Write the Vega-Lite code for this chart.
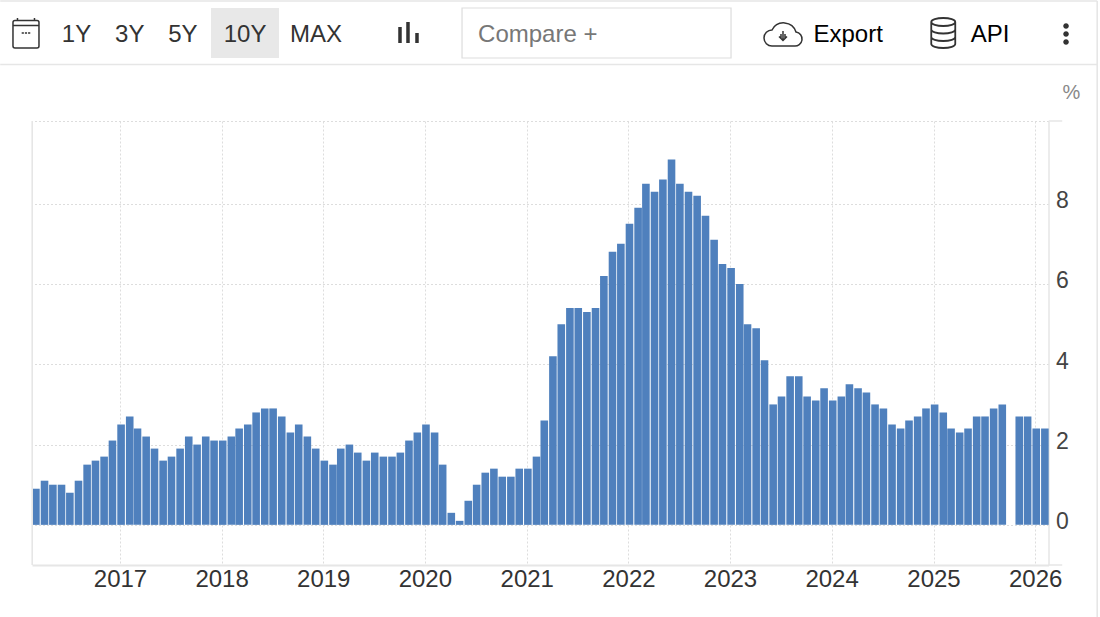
{
  "$schema": "https://vega.github.io/schema/vega-lite/v6.json",
  "width": 1016.5,
  "height": 444,
  "autosize": "none",
  "padding": {"left": 32, "top": 121, "right": 51.5, "bottom": 52},
  "background": "white",
  "config": {"view": {"stroke": null}, "font": "Liberation Sans"},
  "layer": [
    {
      "data": {"values": [
        {"date": "2016-03-05", "rate": 0.9}, {"date": "2016-04-05", "rate": 1.1}, {"date": "2016-05-05", "rate": 1.0}, {"date": "2016-06-05", "rate": 1.0},
        {"date": "2016-07-05", "rate": 0.8}, {"date": "2016-08-05", "rate": 1.1}, {"date": "2016-09-05", "rate": 1.5}, {"date": "2016-10-05", "rate": 1.6},
        {"date": "2016-11-05", "rate": 1.7}, {"date": "2016-12-05", "rate": 2.1},
        {"date": "2017-01-05", "rate": 2.5}, {"date": "2017-02-05", "rate": 2.7}, {"date": "2017-03-05", "rate": 2.4}, {"date": "2017-04-05", "rate": 2.2},
        {"date": "2017-05-05", "rate": 1.9}, {"date": "2017-06-05", "rate": 1.6}, {"date": "2017-07-05", "rate": 1.7}, {"date": "2017-08-05", "rate": 1.9},
        {"date": "2017-09-05", "rate": 2.2}, {"date": "2017-10-05", "rate": 2.0}, {"date": "2017-11-05", "rate": 2.2}, {"date": "2017-12-05", "rate": 2.1},
        {"date": "2018-01-05", "rate": 2.1}, {"date": "2018-02-05", "rate": 2.2}, {"date": "2018-03-05", "rate": 2.4}, {"date": "2018-04-05", "rate": 2.5},
        {"date": "2018-05-05", "rate": 2.8}, {"date": "2018-06-05", "rate": 2.9}, {"date": "2018-07-05", "rate": 2.9}, {"date": "2018-08-05", "rate": 2.7},
        {"date": "2018-09-05", "rate": 2.3}, {"date": "2018-10-05", "rate": 2.5}, {"date": "2018-11-05", "rate": 2.2}, {"date": "2018-12-05", "rate": 1.9},
        {"date": "2019-01-05", "rate": 1.6}, {"date": "2019-02-05", "rate": 1.5}, {"date": "2019-03-05", "rate": 1.9}, {"date": "2019-04-05", "rate": 2.0},
        {"date": "2019-05-05", "rate": 1.8}, {"date": "2019-06-05", "rate": 1.6}, {"date": "2019-07-05", "rate": 1.8}, {"date": "2019-08-05", "rate": 1.7},
        {"date": "2019-09-05", "rate": 1.7}, {"date": "2019-10-05", "rate": 1.8}, {"date": "2019-11-05", "rate": 2.1}, {"date": "2019-12-05", "rate": 2.3},
        {"date": "2020-01-05", "rate": 2.5}, {"date": "2020-02-05", "rate": 2.3}, {"date": "2020-03-05", "rate": 1.5}, {"date": "2020-04-05", "rate": 0.3},
        {"date": "2020-05-05", "rate": 0.1}, {"date": "2020-06-05", "rate": 0.6}, {"date": "2020-07-05", "rate": 1.0}, {"date": "2020-08-05", "rate": 1.3},
        {"date": "2020-09-05", "rate": 1.4}, {"date": "2020-10-05", "rate": 1.2}, {"date": "2020-11-05", "rate": 1.2}, {"date": "2020-12-05", "rate": 1.4},
        {"date": "2021-01-05", "rate": 1.4}, {"date": "2021-02-05", "rate": 1.7}, {"date": "2021-03-05", "rate": 2.6}, {"date": "2021-04-05", "rate": 4.2},
        {"date": "2021-05-05", "rate": 5.0}, {"date": "2021-06-05", "rate": 5.4}, {"date": "2021-07-05", "rate": 5.4}, {"date": "2021-08-05", "rate": 5.3},
        {"date": "2021-09-05", "rate": 5.4}, {"date": "2021-10-05", "rate": 6.2}, {"date": "2021-11-05", "rate": 6.8}, {"date": "2021-12-05", "rate": 7.0},
        {"date": "2022-01-05", "rate": 7.5}, {"date": "2022-02-05", "rate": 7.9}, {"date": "2022-03-05", "rate": 8.5}, {"date": "2022-04-05", "rate": 8.3},
        {"date": "2022-05-05", "rate": 8.6}, {"date": "2022-06-05", "rate": 9.1}, {"date": "2022-07-05", "rate": 8.5}, {"date": "2022-08-05", "rate": 8.3},
        {"date": "2022-09-05", "rate": 8.2}, {"date": "2022-10-05", "rate": 7.7}, {"date": "2022-11-05", "rate": 7.1}, {"date": "2022-12-05", "rate": 6.5},
        {"date": "2023-01-05", "rate": 6.4}, {"date": "2023-02-05", "rate": 6.0}, {"date": "2023-03-05", "rate": 5.0}, {"date": "2023-04-05", "rate": 4.9},
        {"date": "2023-05-05", "rate": 4.1}, {"date": "2023-06-05", "rate": 3.0}, {"date": "2023-07-05", "rate": 3.2}, {"date": "2023-08-05", "rate": 3.7},
        {"date": "2023-09-05", "rate": 3.7}, {"date": "2023-10-05", "rate": 3.2}, {"date": "2023-11-05", "rate": 3.1}, {"date": "2023-12-05", "rate": 3.4},
        {"date": "2024-01-05", "rate": 3.1}, {"date": "2024-02-05", "rate": 3.2}, {"date": "2024-03-05", "rate": 3.5}, {"date": "2024-04-05", "rate": 3.4},
        {"date": "2024-05-05", "rate": 3.3}, {"date": "2024-06-05", "rate": 3.0}, {"date": "2024-07-05", "rate": 2.9}, {"date": "2024-08-05", "rate": 2.5},
        {"date": "2024-09-05", "rate": 2.4}, {"date": "2024-10-05", "rate": 2.6}, {"date": "2024-11-05", "rate": 2.7}, {"date": "2024-12-05", "rate": 2.9},
        {"date": "2025-01-05", "rate": 3.0}, {"date": "2025-02-05", "rate": 2.8}, {"date": "2025-03-05", "rate": 2.4}, {"date": "2025-04-05", "rate": 2.3},
        {"date": "2025-05-05", "rate": 2.4}, {"date": "2025-06-05", "rate": 2.7}, {"date": "2025-07-05", "rate": 2.7}, {"date": "2025-08-05", "rate": 2.9},
        {"date": "2025-09-05", "rate": 3.0}, {"date": "2025-11-05", "rate": 2.7}, {"date": "2025-12-05", "rate": 2.7},
        {"date": "2026-01-05", "rate": 2.4}, {"date": "2026-02-05", "rate": 2.4}
      ]},
      "mark": {"type": "bar", "width": 7.6, "color": "#4f80bd"},
      "encoding": {
        "x": {
          "field": "date",
          "type": "temporal",
          "scale": {"domain": ["2016-02-20", "2026-02-18"], "nice": false, "padding": 0},
          "title": null,
          "axis": {
            "tickCount": "year",
            "format": "%Y",
            "ticks": false,
            "labelFontSize": 24,
            "labelColor": "#333333",
            "labelPadding": 2,
            "labelFlush": false,
            "labelOverlap": false,
            "domainColor": "#e6e6e6",
            "domainWidth": 2,
            "gridColor": "#dddddd",
            "gridDash": [2, 2],
            "grid": true
          }
        },
        "y": {
          "field": "rate",
          "type": "quantitative",
          "scale": {"domain": [-1, 10.06], "nice": false},
          "title": "%",
          "axis": {
            "orient": "right",
            "values": [0, 2, 4, 6, 8, 10.06],
            "labelExpr": "datum.value > 10 ? '' : datum.label",
            "ticks": false,
            "labelFontSize": 23,
            "labelColor": "#444444",
            "labelPadding": 7,
            "labelOffset": -3,
            "domainColor": "#e6e6e6",
            "domainWidth": 1.5,
            "grid": true,
            "gridColor": "#dddddd",
            "gridDash": [2, 2],
            "titleAngle": 0,
            "titleAlign": "center",
            "titleBaseline": "alphabetic",
            "titleX": 22.5,
            "titleY": -23,
            "titleColor": "#888888",
            "titleFontSize": 20,
            "titleFontWeight": "normal"
          }
        }
      }
    },
    {
      "encoding": {
        "x": {
          "field": "item",
          "type": "nominal",
          "axis": null,
          "scale": {
            "type": "point",
            "padding": 0,
            "range": [-26.46, 1037.94],
            "domain": ["s0", "s1", "calendar", "s3", "s4", "s5", "s6", "s7", "1Y", "s9", "s10", "s11", "s12", "s13", "3Y", "s15", "s16", "s17", "s18", "s19", "5Y", "s21", "s22", "s23", "s24", "s25", "s26", "10Y", "s28", "s29", "s30", "s31", "s32", "s33", "s34", "MAX", "s36", "s37", "s38", "s39", "s40", "s41", "s42", "s43", "s44", "bars", "s46", "s47", "s48", "s49", "s50", "s51", "s52", "s53", "s54", "s55", "s56", "s57", "s58", "s59", "Compare +", "frame", "s62", "s63", "s64", "s65", "s66", "box", "s68", "s69", "s70", "s71", "s72", "s73", "s74", "s75", "s76", "s77", "s78", "s79", "s80", "s81", "s82", "s83", "s84", "s85", "s86", "s87", "cloud", "s89", "s90", "s91", "s92", "s93", "s94", "Export", "s96", "s97", "s98", "s99", "s100", "s101", "s102", "s103", "s104", "s105", "db", "s107", "s108", "s109", "s110", "API", "s112", "s113", "s114", "s115", "s116", "s117", "s118", "s119", "dots"]
          }
        },
        "y": {"datum": "toolbar", "type": "nominal", "axis": null, "scale": {"range": [-88, -88]}}
      },
      "layer": [
        {
          "data": {"values": [{"item": "frame"}]},
          "mark": {"type": "point", "size": 4, "filled": false, "stroke": "#e6e6e6", "strokeWidth": 1.6, "opacity": 1,
            "shape": "M-546.4,-32H550.6M-546.4,31.5H550.6M550.6,-32V584M-514.4,88V532M502.1,88H515.6M502.1,532H515.6"}
        },
        {
          "data": {"values": [{"item": "10Y"}]},
          "mark": {"type": "point", "size": 4, "filled": true, "fill": "#e8e8e8", "opacity": 1, "shape": "M-34,-25H34V25H-34Z"}
        },
        {
          "data": {"values": [{"item": "box"}]},
          "mark": {"type": "point", "size": 4, "filled": false, "stroke": "#dddddd", "strokeWidth": 1.2, "opacity": 1, "shape": "M-137.8,-25H131.2V25H-137.8Z"}
        },
        {
          "data": {"values": [{"item": "calendar"}]},
          "mark": {"type": "point", "size": 4, "filled": false, "stroke": "#333333", "strokeWidth": 1.5, "opacity": 1,
            "shape": "M-8.3,-12.5H13.7A2,2 0 0 1 15.7,-10.5V13A2,2 0 0 1 13.7,15H-8.3A2,2 0 0 1 -10.3,13V-10.5A2,2 0 0 1 -8.3,-12.5ZM-10.3,-7.5H15.7M-5.8,-15V-12.5M11.2,-15V-12.5M-1.6,0H0.6M1.6,0H3.8M4.8,0H7"}
        },
        {
          "data": {"values": [{"item": "bars"}]},
          "mark": {"type": "point", "size": 4, "filled": false, "stroke": "#333333", "strokeWidth": 3.5, "opacity": 1, "shape": "M-4.7,-6V10M3.3,-11V10M12.3,0V10"}
        },
        {
          "data": {"values": [{"item": "cloud"}]},
          "mark": {"type": "point", "size": 4, "filled": false, "stroke": "#333333", "strokeWidth": 1.5, "opacity": 1,
            "shape": "M-14.1,13H7.9A7,7 0 0 0 9.9,-1A13,13 0 0 0 -14.1,-3A8,8 0 0 0 -14.1,13ZM-3.1,-2V7M-7.1,3.5L-3.1,7.5L0.9,3.5M-5.1,1V5M-1.1,1V5"}
        },
        {
          "data": {"values": [{"item": "db"}]},
          "mark": {"type": "point", "size": 4, "filled": false, "stroke": "#333333", "strokeWidth": 1.8, "opacity": 1,
            "shape": "M-14.5,-11A12,4 0 0 1 9.5,-11A12,4 0 0 1 -14.5,-11ZM-14.5,-11V11A12,4 0 0 0 9.5,11V-11M-14.5,-3.5A12,4 0 0 0 9.5,-3.5M-14.5,4A12,4 0 0 0 9.5,4"}
        },
        {
          "data": {"values": [{"item": "dots"}]},
          "mark": {"type": "point", "size": 4, "filled": true, "fill": "#333333", "opacity": 1,
            "shape": "M-6.7,-7a2.8,2.8 0 1 0 5.6,0a2.8,2.8 0 1 0 -5.6,0ZM-6.7,1a2.8,2.8 0 1 0 5.6,0a2.8,2.8 0 1 0 -5.6,0ZM-6.7,9a2.8,2.8 0 1 0 5.6,0a2.8,2.8 0 1 0 -5.6,0Z"}
        },
        {
          "data": {"values": [
            {"item": "1Y", "group": "range"}, {"item": "3Y", "group": "range"}, {"item": "5Y", "group": "range"}, {"item": "10Y", "group": "range"}, {"item": "MAX", "group": "range"},
            {"item": "Compare +", "group": "search"},
            {"item": "Export", "group": "action"}, {"item": "API", "group": "action"}
          ]},
          "mark": {"type": "text", "fontSize": 24, "align": "center", "baseline": "middle", "dy": 1.5},
          "encoding": {
            "text": {"field": "item"},
            "color": {"field": "group", "type": "nominal", "legend": null,
              "scale": {"domain": ["range", "search", "action"], "range": ["#333333", "#777777", "#000000"]}}
          }
        }
      ]
    }
  ],
  "resolve": {"scale": {"x": "independent", "y": "independent"}}
}
